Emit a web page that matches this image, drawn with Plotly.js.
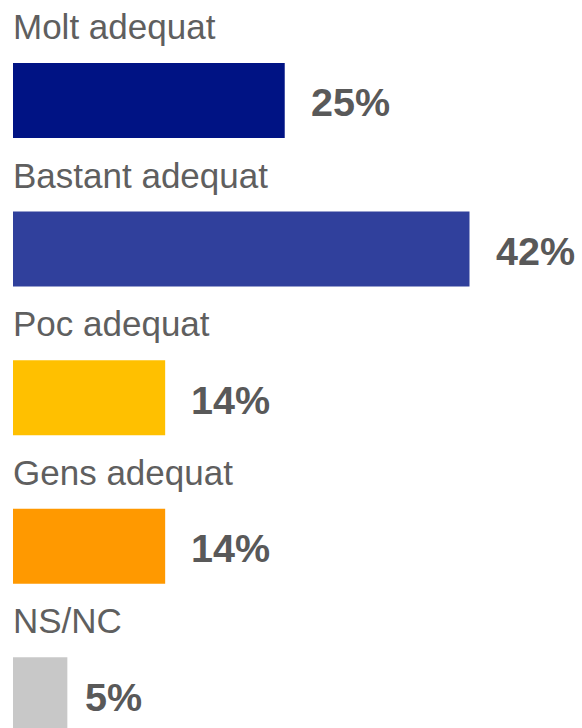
<!DOCTYPE html>
<html>
<head>
<meta charset="utf-8">
<script src="https://cdn.plot.ly/plotly-3.0.1.min.js"></script>
<style>html,body{margin:0;padding:0;background:#fff;}#chart{width:582px;height:728px;}</style>
</head>
<body>
<div id="chart"></div>
<script>
const categories = ["Molt adequat", "Bastant adequat", "Poc adequat", "Gens adequat", "NS/NC"];
const values = [25, 42, 14, 14, 5];
const valueLabels = ["25%", "42%", "14%", "14%", "5%"];
const colors = ["#001384", "#30409C", "#FFC000", "#FF9900", "#C8C8C8"];

const idx = categories.map((c, i) => i);

const trace = {
  type: "bar",
  orientation: "h",
  x: values,
  y: idx,
  width: 0.505,
  marker: {color: colors},
  hoverinfo: "none"
};

const annotations = [];
categories.forEach((c, i) => {
  annotations.push({
    x: 0, y: i, xref: "x", yref: "y",
    text: c, showarrow: false,
    xanchor: "left", yanchor: "middle",
    yshift: 74, xshift: -2,
    font: {family: "Liberation Sans, Arial, sans-serif", size: 35, color: "#5F5F5F"}
  });
  annotations.push({
    x: values[i], y: i, xref: "x", yref: "y",
    text: "<b>" + valueLabels[i] + "</b>", showarrow: false,
    xanchor: "left", yanchor: "middle",
    xshift: values[i] < 10 ? 16 : 24, yshift: -2,
    font: {family: "Liberation Sans, Arial, sans-serif", size: 39.5, color: "#595959"}
  });
});

const layout = {
  width: 582, height: 728,
  margin: {l: 13, r: 0, t: 0, b: 0},
  paper_bgcolor: "#ffffff", plot_bgcolor: "#ffffff",
  showlegend: false,
  xaxis: {range: [0, 52.35], visible: false, fixedrange: true},
  yaxis: {range: [4.223, -0.676], visible: false, fixedrange: true},
  annotations: annotations
};

Plotly.newPlot("chart", [trace], layout, {staticPlot: true, displayModeBar: false});
</script>
</body>
</html>
